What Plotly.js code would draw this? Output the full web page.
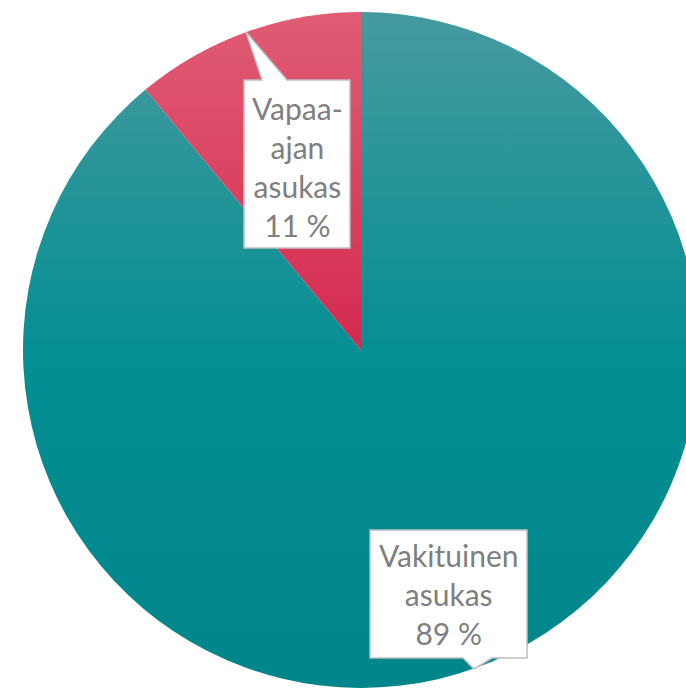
<!DOCTYPE html>
<html>
<head>
<meta charset="utf-8">
<script src="https://cdn.plot.ly/plotly-3.0.1.min.js"></script>
<style>
html, body { margin: 0; padding: 0; overflow: hidden; background: #ffffff; }
#chart { width: 700px; height: 688px; }
</style>
</head>
<body>
<div id="chart"></div>
<script>
// Data
const categories = ['Vakituinen asukas', 'Vapaa-ajan asukas'];
const values = [89, 11];
const labelLines = [['Vakituinen', 'asukas'], ['Vapaa-', 'ajan', 'asukas']];
const sliceColors = ['#038d91', '#da4562'];

// Layout helpers (pixel -> paper)
const W = 700, H = 688;
const px = x => x / W;
const py = y => 1 - y / H;

function calloutPath(box, ptr) {
  const [l, t, r, b] = box;
  let pts;
  if (ptr.side === 'top') {
    pts = [[l, t], [ptr.a, t], [ptr.tx, ptr.ty], [ptr.b, t], [r, t], [r, b], [l, b]];
  } else {
    pts = [[l, t], [r, t], [r, b], [ptr.b, b], [ptr.tx, ptr.ty], [ptr.a, b], [l, b]];
  }
  return 'M' + pts.map(p => px(p[0]) + ',' + py(p[1])).join(' L') + ' Z';
}

const total = values.reduce((s, v) => s + v, 0);
const labelText = categories.map((c, i) =>
  labelLines[i].join('<br>') + '<br>' + Math.round(values[i] / total * 100) + ' %');

const callouts = [
  { box: [370, 530, 527, 658], ptr: { side: 'bottom', a: 463, b: 492, tx: 474, ty: 669 }, cx: 448, cy: 594 },
  { box: [244, 80, 350, 248], ptr: { side: 'top', a: 262, b: 287, tx: 246, ty: 32 }, cx: 297, cy: 166 }
];

const data = [{
  type: 'pie',
  labels: categories,
  values: values,
  sort: false,
  direction: 'clockwise',
  rotation: 0,
  textinfo: 'none',
  hoverinfo: 'label+percent',
  marker: { colors: sliceColors, line: { width: 0 } },
  domain: { x: [22 / W, 1], y: [0, 1 - 12 / H] }
}];

const layout = {
  width: W,
  height: H,
  margin: { l: 0, r: 0, t: 0, b: 0 },
  showlegend: false,
  paper_bgcolor: '#ffffff',
  font: { family: 'Lato, "Open Sans", sans-serif', color: '#7f7f7f' },
  shapes: callouts.map(c => ({
    type: 'path', xref: 'paper', yref: 'paper', layer: 'above',
    path: calloutPath(c.box, c.ptr),
    fillcolor: '#ffffff',
    line: { color: '#bfbfbf', width: 1.5 }
  })),
  annotations: callouts.map((c, i) => ({
    xref: 'paper', yref: 'paper',
    x: px(c.cx), y: py(c.cy),
    xanchor: 'center', yanchor: 'middle',
    text: labelText[i],
    showarrow: false,
    align: 'center',
    font: { size: 30, color: '#7f7f7f', family: 'Lato, "Open Sans", sans-serif' }
  }))
};

Plotly.newPlot('chart', data, layout, { staticPlot: true, displayModeBar: false }).then(gd => {
  const svg = gd.querySelector('svg.main-svg');
  const ns = 'http://www.w3.org/2000/svg';
  let defs = svg.querySelector('defs');
  if (!defs) { defs = document.createElementNS(ns, 'defs'); svg.insertBefore(defs, svg.firstChild); }
  const grads = [
    { id: 'gradTeal', stops: [[0, '#469a9f'], [0.5, '#058f93'], [1, '#00868a']] },
    { id: 'gradRed', stops: [[0, '#e05c74'], [1, '#d42a4f']] }
  ];
  grads.forEach(g => {
    const lg = document.createElementNS(ns, 'linearGradient');
    lg.setAttribute('id', g.id);
    lg.setAttribute('x1', '0'); lg.setAttribute('y1', '0');
    lg.setAttribute('x2', '0'); lg.setAttribute('y2', '1');
    g.stops.forEach(s => {
      const st = document.createElementNS(ns, 'stop');
      st.setAttribute('offset', s[0]);
      st.setAttribute('stop-color', s[1]);
      lg.appendChild(st);
    });
    defs.appendChild(lg);
  });
  const slices = gd.querySelectorAll('g.slice path.surface');
  slices.forEach((p, i) => {
    p.style.fill = 'url(#' + grads[i].id + ')';
  });
});
</script>
</body>
</html>
